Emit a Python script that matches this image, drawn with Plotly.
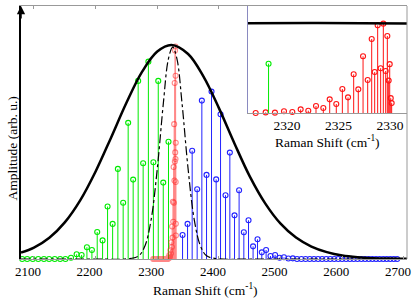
import plotly.graph_objects as go

# ---------------- data ----------------
env_x = [2079, 2100, 2125, 2150, 2175, 2200, 2225, 2250, 2275, 2300, 2323, 2350, 2375,
         2400, 2425, 2450, 2475, 2500, 2525, 2550, 2575, 2600, 2625, 2650, 2675, 2705]
env_y = [0.030, 0.053, 0.099, 0.171, 0.274, 0.409, 0.567, 0.730, 0.873, 0.969, 1.0, 0.958,
         0.852, 0.705, 0.541, 0.386, 0.260, 0.165, 0.100, 0.058, 0.032, 0.016, 0.008,
         0.004, 0.002, 0.001]

pump_x = [2079, 2200, 2250, 2270, 2280, 2290, 2300, 2310, 2318, 2325, 2332, 2340, 2350,
          2360, 2370, 2380, 2400, 2450, 2705]
pump_y = [0, 0, 0.0004, 0.015, 0.061, 0.183, 0.421, 0.732, 0.934, 0.99, 0.934, 0.732,
          0.421, 0.183, 0.061, 0.015, 0.0004, 0, 0]

green_x = [2081.0, 2089.1, 2098.1, 2107.0, 2116.2, 2124.6, 2133.7, 2142.5, 2151.1, 2160.1,
           2169.2, 2177.3, 2185.9, 2194.0, 2202.6, 2211.3, 2219.4, 2227.6, 2236.1, 2244.7,
           2252.8, 2260.9, 2269.0, 2277.1, 2285.6, 2293.7, 2301.6, 2309.7, 2318.2]
green_y = [0, 0, 0, 0, 0, 0, 0, 0, 0, 0.006,
           0.022, 0.019, 0.055, 0.042, 0.126, 0.087, 0.245, 0.164, 0.421, 0.263,
           0.636, 0.371, 0.832, 0.447, 0.922, 0.452, 0.832, 0.357, 0.548]

red_x = [2293.5, 2295.3, 2297.0, 2298.7, 2300.3, 2301.9, 2303.4, 2304.9, 2306.3, 2307.7,
         2309.0, 2310.3, 2311.5, 2312.7, 2313.8, 2314.9, 2315.95,
         2316.95, 2317.92, 2318.82, 2319.70, 2320.51, 2321.32, 2322.06, 2322.81, 2323.52,
         2324.14, 2324.78, 2325.37, 2325.92, 2326.47, 2326.92, 2327.38, 2327.83, 2328.22,
         2328.51, 2328.80, 2329.09, 2329.35, 2329.58, 2329.74, 2329.87, 2329.97, 2330.07,
         2330.16]
red_y = [0, 0, 0, 0, 0, 0, 0, 0, 0, 0,
         0, 0, 0, 0, 0, 0, 0,
         0.0, 0.007, 0.004, 0.019, 0.011, 0.041, 0.026, 0.078, 0.056,
         0.152, 0.100, 0.267, 0.174, 0.430, 0.263, 0.630, 0.367, 0.822,
         0.455, 0.974, 0.498, 0.993, 0.467, 0.856, 0.360, 0.543, 0.165,
         0.110]

blue_x = [2341.0, 2349.1, 2356.6, 2364.7, 2372.3, 2379.9, 2388.0, 2395.5, 2402.6, 2410.7,
          2417.7, 2425.3, 2432.7, 2440.4, 2448.0, 2455.4, 2462.6, 2469.5, 2476.5, 2483.6,
          2491.1, 2498.4, 2505.5, 2512.6, 2519.8, 2526.7, 2533.7, 2540.5, 2547.3, 2554.1,
          2560.8, 2567.4, 2574.1, 2580.5, 2587.0, 2593.5, 2599.8, 2606.2, 2612.5, 2618.6,
          2624.8, 2631.0, 2637.0, 2643.0, 2648.9, 2654.8, 2660.6, 2666.5, 2672.1, 2677.8,
          2683.5, 2689.0]
blue_y = [0.112, 0.164, 0.506, 0.326, 0.740, 0.393, 0.782, 0.372, 0.676, 0.298,
          0.497, 0.204, 0.321, 0.125, 0.181, 0.059, 0.092, 0.031, 0.042, 0.014,
          0.019, 0.006, 0.008, 0.002, 0.003, 0, 0, 0, 0, 0,
          0, 0, 0, 0, 0, 0, 0, 0, 0, 0,
          0, 0, 0, 0, 0, 0, 0, 0, 0, 0,
          0, 0]

main_ticks = [2100, 2200, 2300, 2400, 2500, 2600, 2700]
inset_ticks = [2320, 2325, 2330]

GREEN = "rgb(0,235,0)"
BLUE = "rgb(35,35,255)"
RED = "rgb(255,20,20)"
FONT = "Liberation Serif"


def stems(xs, ys):
    sx, sy = [], []
    for x, y in zip(xs, ys):
        sx += [x, x, None]
        sy += [0, y, None]
    return sx, sy


fig = go.Figure()


def add_stem(xs, ys, color, xa, ya, opacity=1.0):
    sx, sy = stems(xs, ys)
    fig.add_trace(go.Scatter(x=sx, y=sy, mode="lines", line=dict(color=color, width=1),
                             xaxis=xa, yaxis=ya, opacity=opacity, showlegend=False,
                             hoverinfo="skip"))
    fig.add_trace(go.Scatter(x=xs, y=ys, mode="markers", cliponaxis=False,
                             marker=dict(symbol="circle-open", size=5, color=color,
                                         line=dict(width=1.1, color=color)),
                             xaxis=xa, yaxis=ya, opacity=opacity, showlegend=False))


# main plot
add_stem(green_x, green_y, GREEN, "x", "y")
add_stem(blue_x, blue_y, BLUE, "x", "y")
add_stem(red_x, red_y, RED, "x", "y", opacity=0.5)
fig.add_trace(go.Scatter(x=env_x, y=env_y, mode="lines", line=dict(color="black", width=2.5, shape="spline"),
                         xaxis="x", yaxis="y", showlegend=False))
fig.add_trace(go.Scatter(x=pump_x, y=pump_y, mode="lines",
                         line=dict(color="black", width=1.2, dash="dashdot", shape="spline"),
                         xaxis="x", yaxis="y", showlegend=False))

# inset
add_stem(red_x, red_y, RED, "x2", "y2")
add_stem(green_x, green_y, GREEN, "x2", "y2")
fig.add_trace(go.Scatter(x=env_x, y=env_y, mode="lines", line=dict(color="black", width=2.5, shape="spline"),
                         xaxis="x2", yaxis="y2", showlegend=False))

fig.update_layout(
    width=416, height=299,
    margin=dict(l=21, r=9, t=6, b=40),
    paper_bgcolor="white", plot_bgcolor="white",
    font=dict(family=FONT, size=13, color="black"),
    xaxis=dict(domain=[0, 1], range=[2079, 2705], tickvals=main_ticks,
               ticktext=[str(t) for t in main_ticks], ticks="inside", ticklen=3,
               tickcolor="#999", showline=True, linecolor="#999", linewidth=1,
               mirror="ticks", showgrid=False, zeroline=False, ticklabelshift=-6,
               tickfont=dict(family=FONT, size=13)),
    yaxis=dict(domain=[0, 1], range=[0, 1.182], showticklabels=False, ticks="",
               showline=True, linecolor="black", linewidth=1.5, showgrid=False, zeroline=False),
    xaxis2=dict(domain=[0.588, 1], anchor="y2", range=[2316.2, 2331.65], tickvals=inset_ticks,
                ticktext=[str(t) for t in inset_ticks], ticks="", showline=True,
                linecolor="#999", showgrid=False, zeroline=False,
                tickfont=dict(family=FONT, size=13.5)),
    yaxis2=dict(domain=[0.577, 1], anchor="x2", range=[0, 1.189], showticklabels=False,
                ticks="", showline=True, linecolor="#8a8ac0", showgrid=False, zeroline=False),
    shapes=[dict(type="line", xref="paper", yref="paper", x0=1, x1=1, y0=0, y1=1,
                 line=dict(color="#999", width=1))],
    annotations=[
        dict(text="Raman Shift (cm<sup>-1</sup>)", xref="paper", yref="paper", x=0.479, y=-0.119,
             showarrow=False, xanchor="center", yanchor="middle", font=dict(size=13.5)),
        dict(text="Amplitude (arb. u.)", xref="paper", yref="paper", x=-0.0233, y=0.437,
             showarrow=False, textangle=-90, xanchor="center", yanchor="middle", font=dict(size=13.5)),
        dict(text="Raman Shift (cm<sup>-1</sup>)", xref="paper", yref="paper", x=0.795, y=0.4625,
             showarrow=False, xanchor="center", yanchor="middle", font=dict(size=13.5)),
        dict(text="", xref="paper", yref="paper", x=0, y=1, ax=0, ay=14, showarrow=True,
             arrowhead=2, arrowsize=1.1, arrowwidth=1.5, arrowcolor="black", standoff=0),
    ],
)

fig.write_html("out.html", config={"displayModeBar": False},
               post_script="document.body.style.margin='0';document.body.style.overflow='hidden';")
